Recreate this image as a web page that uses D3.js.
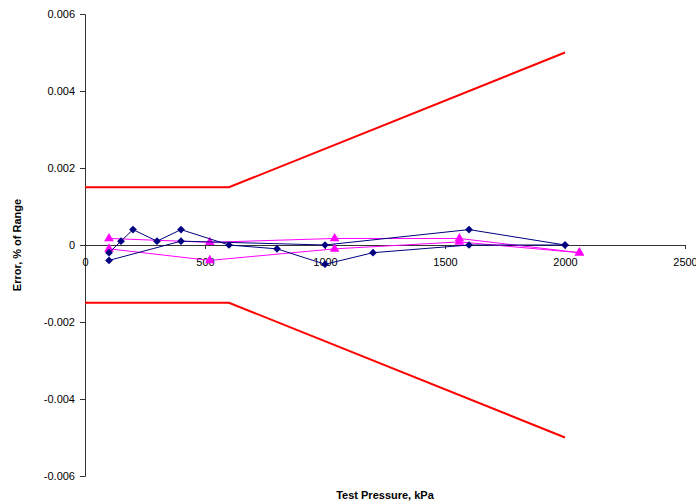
<!DOCTYPE html>
<html>
<head>
<meta charset="utf-8">
<script src="https://cdn.jsdelivr.net/npm/d3@7/dist/d3.min.js"></script>
<style>
  html, body { margin: 0; padding: 0; background: #fff; }
  svg { display: block; font-family: "Liberation Sans", Arial, sans-serif; }
</style>
</head>
<body>
<svg id="chart" width="696" height="503"></svg>
<script>
// Allowed error band (upper / lower limits)
const limitX = [0, 600, 2000];
const limitUpper = [0.0015, 0.0015, 0.005];
const limitLower = [-0.0015, -0.0015, -0.005];

// Gauge A runs (diamonds)
const runA1X = [100, 150, 200, 300, 400, 600, 800, 1000, 1200, 1600, 2000];
const runA1Y = [-0.0002, 0.0001, 0.0004, 0.0001, 0.0004, 0.0, -0.0001, -0.0005, -0.0002, 0.0, 0.0];
const runA2X = [100, 400, 1000, 1600, 2000];
const runA2Y = [-0.0004, 0.0001, 0.0, 0.0004, 0.0];

// Gauge B runs (triangles)
const runB1X = [100, 520, 1040, 1560, 2060];
const runB1Y = [0.00017, 0.00007, 0.00017, 0.00017, -0.0002];
const runB2X = [100, 520, 1040, 1560, 2060];
const runB2Y = [-0.0001, -0.0004, -0.0001, 0.00008, -0.0002];

const xTicks = [0, 500, 1000, 1500, 2000, 2500];
const yTicks = [-0.006, -0.004, -0.002, 0, 0.002, 0.004, 0.006];

(function () {
  const svg = d3.select("#chart");
  const m = { left: 85, right: 685, top: 14, bottom: 476 };

  const x = d3.scaleLinear().domain([0, 2500]).range([m.left, m.right]);
  const y = d3.scaleLinear().domain([-0.006, 0.006]).range([m.bottom, m.top]);

  // plain hyphen for negatives
  const fmtY = v => v === 0 ? "0" : (v < 0 ? "-" : "") + Math.abs(v).toFixed(3);

  // Y axis
  const yAxis = svg.append("g")
    .attr("transform", `translate(${m.left},0)`)
    .call(d3.axisLeft(y).tickValues(yTicks).tickFormat(fmtY).tickSize(5).tickPadding(5));
  yAxis.select(".domain").attr("stroke", "#333");
  yAxis.selectAll(".tick line").attr("stroke", "#333");
  yAxis.selectAll("text").attr("font-size", 11).attr("fill", "#000");

  // X axis crossing at zero
  const xAxis = svg.append("g")
    .attr("transform", `translate(0,${y(0)})`)
    .call(d3.axisBottom(x).tickValues(xTicks).tickFormat(d3.format("d")).tickSize(4).tickSizeOuter(0).tickPadding(9));
  xAxis.select(".domain").attr("stroke", "#333");
  xAxis.selectAll(".tick line").attr("stroke", "#333");
  xAxis.selectAll("text").attr("font-size", 11).attr("fill", "#000");

  // Limit lines
  const lineGen = d3.line().x(d => x(d[0])).y(d => y(d[1]));
  [limitUpper, limitLower].forEach(ys => {
    svg.append("path")
      .attr("d", lineGen(limitX.map((v, i) => [v, ys[i]])))
      .attr("fill", "none").attr("stroke", "#ff0000").attr("stroke-width", 2);
  });

  function drawRun(xs, ys, color, symbol, size, rot) {
    const pts = xs.map((v, i) => [v, ys[i]]);
    svg.append("path")
      .attr("d", lineGen(pts))
      .attr("fill", "none").attr("stroke", color).attr("stroke-width", 1);
    svg.append("g").selectAll("path").data(pts).join("path")
      .attr("transform", d => `translate(${x(d[0])},${y(d[1])}) rotate(${rot})`)
      .attr("d", d3.symbol().type(symbol).size(size))
      .attr("fill", color);
  }

  drawRun(runB1X, runB1Y, "#ff00ff", d3.symbolTriangle, 40, 0);
  drawRun(runB2X, runB2Y, "#ff00ff", d3.symbolTriangle, 40, 0);
  drawRun(runA1X, runA1Y, "#000080", d3.symbolSquare, 30, 45);
  drawRun(runA2X, runA2Y, "#000080", d3.symbolSquare, 30, 45);

  // Axis titles
  svg.append("text")
    .attr("x", (m.left + m.right) / 2).attr("y", 499)
    .attr("text-anchor", "middle").attr("font-size", 11).attr("font-weight", "bold")
    .text("Test Pressure, kPa");
  svg.append("text")
    .attr("transform", `translate(21,${(m.top + m.bottom) / 2}) rotate(-90)`)
    .attr("text-anchor", "middle").attr("font-size", 11).attr("font-weight", "bold")
    .text("Error, % of Range");
})();
</script>
</body>
</html>
